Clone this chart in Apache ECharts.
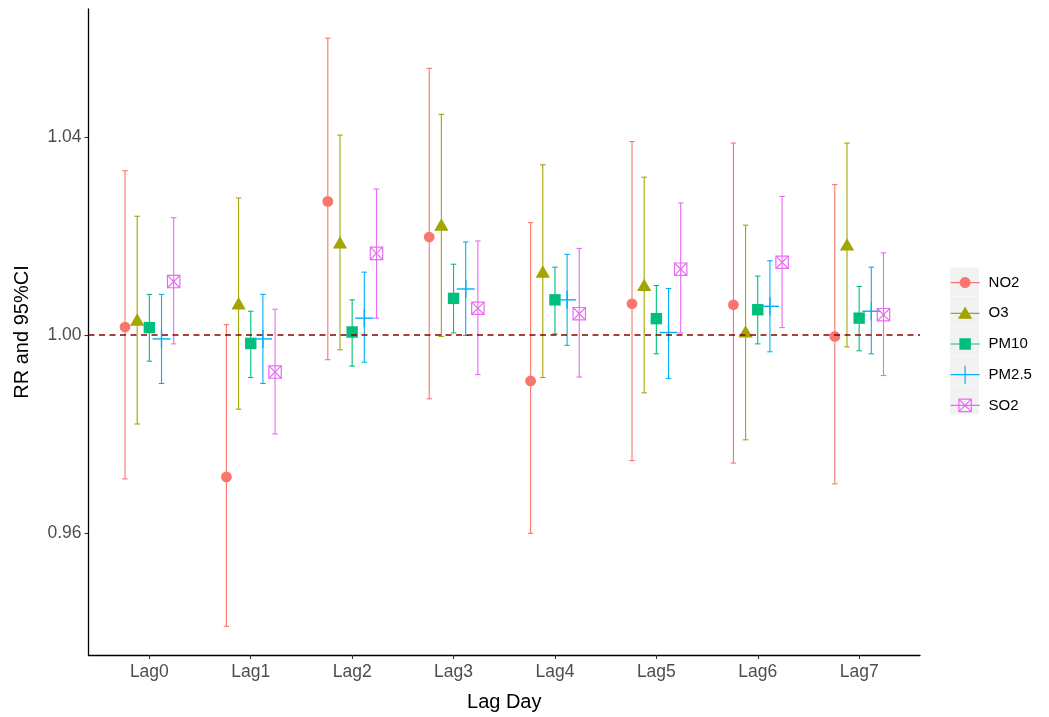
<!DOCTYPE html>
<html>
<head>
<meta charset="utf-8">
<title>RR and 95%CI by lag day</title>
<script src="https://cdn.jsdelivr.net/npm/echarts@6/dist/echarts.min.js"></script>
<style>
  html, body { margin: 0; padding: 0; background: #ffffff; }
  #chart { width: 1049px; height: 717px; }
</style>
</head>
<body>
<div id="chart"></div>
<script>
// Lag days on the x axis
const lagLabels = ['Lag0', 'Lag1', 'Lag2', 'Lag3', 'Lag4', 'Lag5', 'Lag6', 'Lag7'];
const pollutants = ['NO2', 'O3', 'PM10', 'PM2.5', 'SO2'];
const yTicks = [0.96, 1.00, 1.04];

// Relative risk and 95% confidence limits per pollutant, Lag0..Lag7
const NO2_RR = [1.0016, 0.9713, 1.0270, 1.0198, 0.9907, 1.0063, 1.0061, 0.9997];
const NO2_LO = [0.9709, 0.9411, 0.9950, 0.9871, 0.9599, 0.9746, 0.9741, 0.9699];
const NO2_HI = [1.0332, 1.0021, 1.0600, 1.0539, 1.0227, 1.0391, 1.0388, 1.0304];

const O3_RR = [1.0027, 1.0060, 1.0183, 1.0219, 1.0124, 1.0097, 1.0003, 1.0179];
const O3_LO = [0.9820, 0.9850, 0.9970, 0.9997, 0.9914, 0.9883, 0.9788, 0.9976];
const O3_HI = [1.0240, 1.0277, 1.0404, 1.0446, 1.0344, 1.0319, 1.0222, 1.0388];

const PM10_RR = [1.0015, 0.9983, 1.0006, 1.0074, 1.0071, 1.0033, 1.0051, 1.0034];
const PM10_LO = [0.9947, 0.9914, 0.9937, 1.0004, 1.0002, 0.9962, 0.9982, 0.9968];
const PM10_HI = [1.0082, 1.0048, 1.0071, 1.0143, 1.0137, 1.0100, 1.0119, 1.0098];

const PM25_RR = [0.9992, 0.9992, 1.0034, 1.0093, 1.0071, 1.0005, 1.0058, 1.0048];
const PM25_LO = [0.9902, 0.9902, 0.9945, 0.9999, 0.9979, 0.9912, 0.9966, 0.9962];
const PM25_HI = [1.0082, 1.0082, 1.0127, 1.0188, 1.0163, 1.0094, 1.0150, 1.0137];

const SO2_RR = [1.0108, 0.9925, 1.0165, 1.0054, 1.0043, 1.0133, 1.0147, 1.0041];
const SO2_LO = [0.9982, 0.9800, 1.0034, 0.9920, 0.9915, 1.0004, 1.0015, 0.9918];
const SO2_HI = [1.0237, 1.0052, 1.0295, 1.0190, 1.0175, 1.0267, 1.0280, 1.0166];

const refLine = 1.0;

// ---- styling ----
const colors = ['#F8766D', '#A3A500', '#00BF7D', '#00B0F6', '#E76BF3'];
const shapes = ['circle', 'triangle', 'square', 'plus', 'boxcross'];
const FONT = '"Liberation Sans", Arial, sans-serif';
const DODGE = 0.12;      // horizontal offset between pollutants within one lag
const CAP_HALF = 0.027;  // half-width of error bar caps (x units)
const X_MIN = -0.6, X_MAX = 7.6;
const Y_MIN = 0.9353, Y_MAX = 1.0659;

const seriesValues = [
  [NO2_RR, NO2_LO, NO2_HI],
  [O3_RR, O3_LO, O3_HI],
  [PM10_RR, PM10_LO, PM10_HI],
  [PM25_RR, PM25_LO, PM25_HI],
  [SO2_RR, SO2_LO, SO2_HI]
];

function markerShape(shape, cx, cy, color) {
  const lw = 1.2;
  switch (shape) {
    case 'circle':
      return [{ type: 'circle', shape: { cx: cx, cy: cy, r: 5.4 }, style: { fill: color } }];
    case 'triangle': {
      const w = 14.3, h = 12.4;
      return [{ type: 'polygon', shape: { points: [[cx, cy - 2 * h / 3], [cx - w / 2, cy + h / 3], [cx + w / 2, cy + h / 3]] }, style: { fill: color } }];
    }
    case 'square': {
      const s = 11.4;
      return [{ type: 'rect', shape: { x: cx - s / 2, y: cy - s / 2, width: s, height: s }, style: { fill: color } }];
    }
    case 'plus': {
      const a = 9;
      return [
        { type: 'line', shape: { x1: cx - a, y1: cy, x2: cx + a, y2: cy }, style: { stroke: color, lineWidth: 1.4 } },
        { type: 'line', shape: { x1: cx, y1: cy - a, x2: cx, y2: cy + a }, style: { stroke: color, lineWidth: 1.4 } }
      ];
    }
    case 'boxcross': {
      const h = 6.2;
      return [
        { type: 'rect', shape: { x: cx - h, y: cy - h, width: 2 * h, height: 2 * h }, style: { fill: 'rgba(0,0,0,0)', stroke: color, lineWidth: lw } },
        { type: 'line', shape: { x1: cx - h, y1: cy - h, x2: cx + h, y2: cy + h }, style: { stroke: color, lineWidth: lw } },
        { type: 'line', shape: { x1: cx + h, y1: cy - h, x2: cx - h, y2: cy + h }, style: { stroke: color, lineWidth: lw } }
      ];
    }
  }
  return [];
}

function makeSeries(k) {
  const vals = seriesValues[k];
  const data = lagLabels.map((_, i) => [i, vals[0][i], vals[1][i], vals[2][i]]);
  const color = colors[k];
  const offset = (k - 2) * DODGE;
  return {
    type: 'custom',
    name: pollutants[k],
    data: data,
    z: 3,
    silent: true,
    itemStyle: { color: color },
    encode: { x: 0, y: [1, 2, 3] },
    renderItem: function (params, api) {
      const x = api.value(0) + offset;
      const pE = api.coord([x, api.value(1)]);
      const pL = api.coord([x, api.value(2)]);
      const pH = api.coord([x, api.value(3)]);
      const half = api.size([CAP_HALF, 0])[0];
      const bar = { stroke: color, lineWidth: 1.1 };
      const children = [
        { type: 'line', shape: { x1: pL[0], y1: pL[1], x2: pH[0], y2: pH[1] }, style: bar },
        { type: 'line', shape: { x1: pL[0] - half, y1: pL[1], x2: pL[0] + half, y2: pL[1] }, style: bar },
        { type: 'line', shape: { x1: pH[0] - half, y1: pH[1], x2: pH[0] + half, y2: pH[1] }, style: bar }
      ].concat(markerShape(shapes[k], pE[0], pE[1], color));
      return { type: 'group', children: children };
    }
  };
}

// Legend key icons drawn in a 29x29 box: key line plus the point shape
const ANCHOR = 'M14.5,0M14.5,29';
const legendIcons = [
  'path://' + ANCHOR + 'M0,14.5H29M9.6,14.5A4.9,4.9,0,1,1,19.4,14.5A4.9,4.9,0,1,1,9.6,14.5Z',
  'path://' + ANCHOR + 'M0,14.5H29M14.5,8.9L20.6,19.4L8.4,19.4Z',
  'path://' + ANCHOR + 'M0,14.5H29M9.4,9.4H19.6V19.6H9.4Z',
  'path://' + ANCHOR + 'M0,14.5H29M5.5,14.5H23.5M14.5,5.5V23.5',
  'path://' + ANCHOR + 'M0,14.5H29M8.3,8.3H20.7V20.7H8.3ZM8.3,8.3L20.7,20.7M20.7,8.3L8.3,20.7'
];
const hollow = [false, false, false, true, true];

const LEG_LEFT = 950, LEG_TOP = 267.5, KEY = 29, KEY_STEP = 29.5;

const option = {
  animation: false,
  backgroundColor: '#ffffff',
  textStyle: { fontFamily: FONT },
  grid: { left: 88.5, right: 129, top: 9, bottom: 58, containLabel: false },
  xAxis: {
    type: 'value',
    min: X_MIN,
    max: X_MAX,
    name: 'Lag Day',
    nameLocation: 'middle',
    nameGap: 37,
    nameTextStyle: { fontSize: 20, color: '#000000', fontFamily: FONT },
    axisLine: { show: true, onZero: false, lineStyle: { color: '#000000', width: 1.3 } },
    axisTick: { show: true, length: 4, lineStyle: { color: '#333333', width: 1.1 }, customValues: lagLabels.map((_, i) => i) },
    axisLabel: {
      show: true, margin: 8, fontSize: 17.5, color: '#4D4D4D', fontFamily: FONT,
      customValues: lagLabels.map((_, i) => i),
      formatter: function (v) { return lagLabels[Math.round(v)]; }
    },
    splitLine: { show: false }
  },
  yAxis: {
    type: 'value',
    min: Y_MIN,
    max: Y_MAX,
    name: 'RR and 95%CI',
    nameLocation: 'middle',
    nameGap: 56,
    nameRotate: 90,
    nameTextStyle: { fontSize: 20, color: '#000000', fontFamily: FONT },
    axisLine: { show: true, onZero: false, lineStyle: { color: '#000000', width: 1.3 } },
    axisTick: { show: true, length: 4, lineStyle: { color: '#333333', width: 1.1 }, customValues: yTicks },
    axisLabel: {
      show: true, margin: 7, fontSize: 17.5, color: '#4D4D4D', fontFamily: FONT,
      customValues: yTicks,
      formatter: function (v) { return v.toFixed(2); }
    },
    splitLine: { show: false }
  },
  legend: {
    orient: 'vertical',
    left: LEG_LEFT,
    top: LEG_TOP,
    padding: 0,
    itemWidth: KEY,
    itemHeight: KEY,
    itemGap: KEY_STEP - KEY,
    selectedMode: false,
    symbolKeepAspect: true,
    textStyle: { fontSize: 15, color: '#000000', fontFamily: FONT, padding: [0, 0, 0, 4] },
    data: pollutants.map((name, k) => ({
      name: name,
      icon: legendIcons[k],
      itemStyle: {
        color: hollow[k] ? 'rgba(0,0,0,0)' : colors[k],
        borderColor: colors[k],
        borderWidth: 1.2
      }
    }))
  },
  graphic: pollutants.map((_, k) => ({
    type: 'rect',
    left: LEG_LEFT,
    top: LEG_TOP + k * KEY_STEP,
    z: -1,
    silent: true,
    shape: { width: KEY, height: KEY },
    style: { fill: '#F2F2F2' }
  })),
  series: pollutants.map((_, k) => makeSeries(k)).concat([{
    type: 'line',
    name: 'reference',
    data: [[X_MIN, refLine], [X_MAX, refLine]],
    symbol: 'none',
    silent: true,
    z: 10,
    lineStyle: { color: '#8B0000', width: 1.5, type: [6, 4.5] }
  }])
};

const chart = echarts.init(document.getElementById('chart'), null, { renderer: 'canvas' });
chart.setOption(option);
</script>
</body>
</html>
